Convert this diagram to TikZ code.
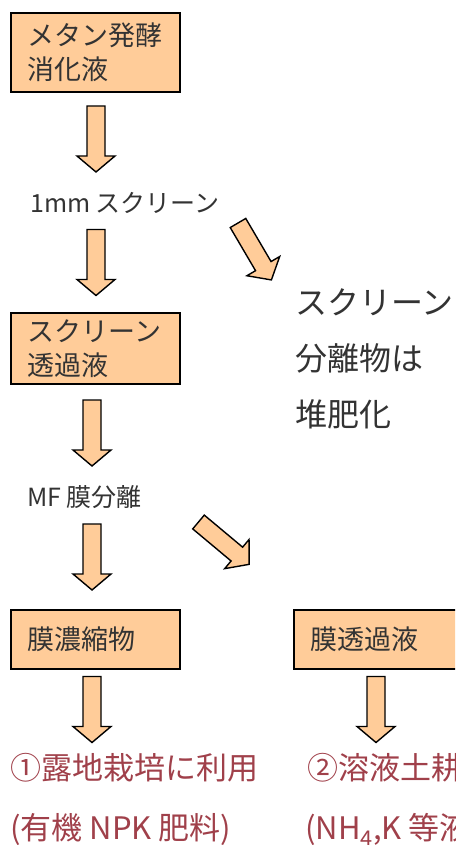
\documentclass[tikz,border=0pt]{standalone}
\usepackage{fontspec}
\setmainfont{Noto Sans CJK JP}
\definecolor{peach}{HTML}{FFCC99}
\definecolor{txt}{HTML}{333333}
\definecolor{redtxt}{HTML}{A0404A}
\begin{document}
\begin{tikzpicture}[x=1pt,y=-1pt,
  box/.style={draw=black, line width=1.6pt, fill=peach, anchor=north west,
    inner xsep=17pt, inner ysep=0pt, align=left, text=txt,
    font=\fontsize{27}{34}\selectfont},
  barrow/.pic={\draw[line width=1.4pt, fill=peach, line join=miter]
    (0,-9) -- (50,-9) -- (50,-19) -- (66,0) -- (50,19) -- (50,9) -- (0,9) -- cycle;},
  midlabel/.style={anchor=west, inner sep=0pt, text=txt,
    font=\fontsize{25}{30}\selectfont},
  sidelabel/.style={anchor=west, inner sep=0pt, text=txt, align=left,
    font=\fontsize{32}{56}\selectfont},
  result/.style={anchor=west, inner sep=0pt, text=redtxt,
    font=\fontsize{31}{36}\selectfont}]
\useasboundingbox (0,0) rectangle (455,845);
\clip (0,0) rectangle (455,845);
% boxes
\node[box, minimum width=169pt, minimum height=79pt, text width=135pt] (b1) at (10,12) {メタン発酵\\消化液};
\node[box, minimum width=169pt, minimum height=71pt, text width=135pt] (b2) at (10,312) {スクリーン\\透過液};
\node[box, minimum width=169pt, minimum height=59pt, text width=135pt] (b3) at (10,609) {膜濃縮物};
\node[box, minimum width=180pt, minimum height=59pt, text width=146pt] (b4) at (293,609) {膜透過液};
% labels
\node[midlabel] (s1) at (30,203) {1mm スクリーン};
\node[midlabel] (m1) at (27,497) {MF 膜分離};
\node[sidelabel] (r1) at (295,359) {スクリーン\\分離物は\\堆肥化};
% block arrows
\pic[rotate=-90] (a1) at (96,106) {barrow};
\pic[rotate=-90] (a2) at (96,229.5) {barrow};
\pic[rotate=-90] (a3) at (92,400) {barrow};
\pic[rotate=-90] (a4) at (92,524) {barrow};
\pic[rotate=-90] (a5) at (92,676.5) {barrow};
\pic[rotate=-90] (a6) at (376,676.5) {barrow};
\pic[rotate=-59.6] (d1) at (238,223) {barrow};
\pic[rotate=-39.9] (d2) at (198.5,522) {barrow};
% results
\node[result] (u1) at (10,768) {①露地栽培に利用};
\node[result] (u2) at (10,830) {(有機 NPK 肥料)};
\node[result] (u3) at (307,768) {②溶液土耕に利用};
\node[result] (u4) at (305,830) {(NH\textsubscript{4},K 等液肥)};
\end{tikzpicture}
\end{document}
